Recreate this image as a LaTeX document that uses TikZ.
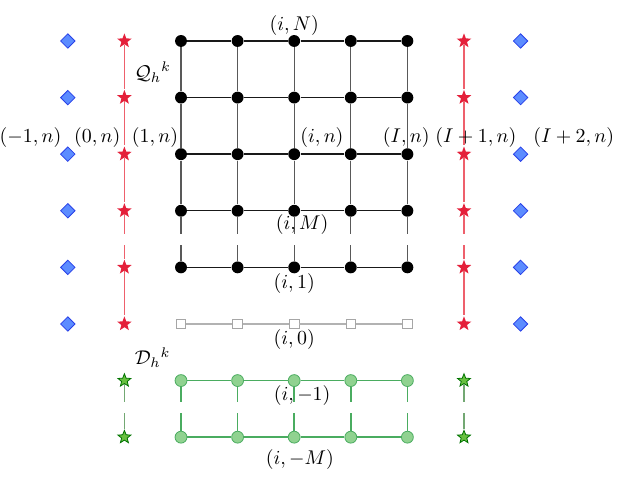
\documentclass[tikz,border=0pt]{standalone}
\usetikzlibrary{shapes.geometric}

\definecolor{starred}{RGB}{228,32,58}
\definecolor{linered}{RGB}{238,96,108}
\definecolor{diafill}{RGB}{92,140,255}
\definecolor{diaedge}{RGB}{40,64,232}
\definecolor{gfill}{RGB}{144,210,144}
\definecolor{gedge}{RGB}{74,172,96}
\definecolor{gstarfill}{RGB}{104,192,64}

\begin{document}
\begin{tikzpicture}[
    dot/.style={circle, fill=black, inner sep=0pt, minimum size=2.1mm},
    ghost/.style={rectangle, draw=black!35, fill=white, inner sep=0pt, minimum size=1.7mm},
    gdot/.style={circle, draw=gedge, fill=gfill, inner sep=0pt, minimum size=2.1mm},
    rstar/.style={star, star points=5, star point ratio=2.4, fill=starred, inner sep=0pt, minimum size=2.7mm},
    gstar/.style={star, star points=5, star point ratio=2.3, draw=green!45!black, fill=gstarfill, inner sep=0pt, minimum size=2.4mm},
    bdia/.style={diamond, draw=diaedge, fill=diafill, inner sep=0pt, minimum size=2.6mm},
    hline/.style={draw=black!90, line width=0.7pt},
    vline/.style={draw=black!65, line width=0.7pt},
    rline/.style={draw=linered, line width=0.8pt},
    gline/.style={draw=gedge, line width=0.8pt},
  ]
  \useasboundingbox (-3.198,-7.756) rectangle (7.774,0.724);

  % interior grid, ghost row and the mirrored rows below
  \foreach \c in {0,...,4} {
    \foreach \r in {0,...,4}
      \node[dot] (p\c-\r) at (\c,-\r) {};
    \node[ghost] (z\c) at (\c,-5) {};
    \node[gdot] (g\c-1) at (\c,-6) {};
    \node[gdot] (g\c-2) at (\c,-7) {};
  }

  % boundary columns
  \foreach \r in {0,...,5} {
    \node[bdia] (bl\r) at (-2,-\r) {};
    \node[bdia] (br\r) at (6,-\r) {};
    \node[rstar] (rl\r) at (-1,-\r) {};
    \node[rstar] (rr\r) at (5,-\r) {};
  }
  \node[gstar] (sl1) at (-1,-6) {};
  \node[gstar] (sl2) at (-1,-7) {};
  \node[gstar] (sr1) at (5,-6) {};
  \node[gstar] (sr2) at (5,-7) {};

  % horizontal lines
  \foreach \c/\d in {0/1,1/2,2/3,3/4} {
    \foreach \r in {0,...,4} {
      \draw[hline] (p\c-\r) -- (p\d-\r);
    }
    \draw[black!30, line width=0.6pt] (z\c) -- (z\d);
    \draw[gline] (g\c-1) -- (g\d-1);
    \draw[gline] (g\c-2) -- (g\d-2);
  }

  % vertical lines, broken between the last two rows
  \foreach \c in {0,...,4} {
    \foreach \r/\s in {0/1,1/2,2/3}
      \draw[vline] (p\c-\r) -- (p\c-\s);
    \draw[vline] (p\c-3) -- ++(0,-0.41);
    \draw[vline] (p\c-4) -- ++(0,0.4);
    \draw[gline] (g\c-1) -- ++(0,-0.37);
    \draw[gline] (g\c-2) -- ++(0,0.43);
  }

  % red boundary lines
  \foreach \x in {rl,rr} {
    \foreach \r/\s in {0/1,1/2,2/3,4/5}
      \draw[rline] (\x\r) -- (\x\s);
    \draw[rline] (\x3) -- ++(0,-0.41);
    \draw[rline] (\x4) -- ++(0,0.4);
  }
  \foreach \x in {sl,sr} {
    \draw[gline, gfill!80!black] (\x1) -- ++(0,-0.37);
    \draw[gline, gfill!80!black] (\x2) -- ++(0,0.43);
  }

  % labels
  \node (lN) at (2,0.265) {$(i,N)$};
  \node (lQ) at (-0.5,-0.55) {$\mathcal{Q}_h{}^{k}$};
  \node (lm1) at (-2.66,-1.71) {$(-1,n)$};
  \node (l0) at (-1.48,-1.71) {$(0,n)$};
  \node (l1) at (-0.46,-1.71) {$(1,n)$};
  \node (li) at (2.49,-1.71) {$(i,n)$};
  \node (lI) at (3.98,-1.71) {$(I,n)$};
  \node (lI1) at (5.21,-1.71) {$(I+1,n)$};
  \node (lI2) at (6.94,-1.71) {$(I+2,n)$};
  \node (lM) at (2.14,-3.25) {$(i,M)$};
  \node (lr1) at (2,-4.28) {$(i,1)$};
  \node (lr0) at (2,-5.28) {$(i,0)$};
  \node (lD) at (-0.5,-5.6) {$\mathcal{D}_h{}^{k}$};
  \node (lmr1) at (2.14,-6.27) {$(i,-1)$};
  \node (lmM) at (2.1,-7.39) {$(i,-M)$};
\end{tikzpicture}
\end{document}
